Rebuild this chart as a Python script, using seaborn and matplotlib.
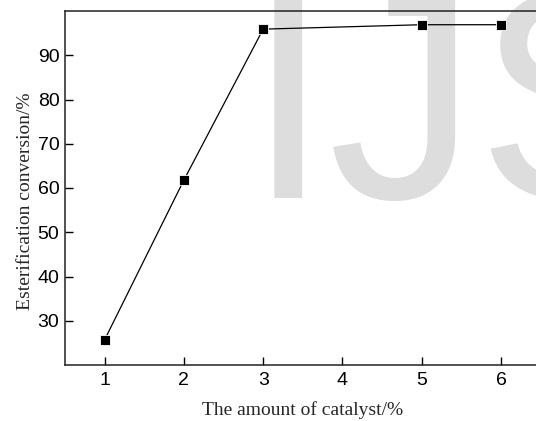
import matplotlib
matplotlib.use("Agg")
import matplotlib.pyplot as plt
import seaborn as sns
import pandas as pd

catalyst = [1, 2, 3, 5, 6]
conversion = [25.7, 61.8, 95.9, 96.9, 96.9]
xticks = [1, 2, 3, 4, 5, 6]
yticks = [30, 40, 50, 60, 70, 80, 90]

sns.set_style("ticks")
plt.rcParams['font.family'] = ['Liberation Sans', 'DejaVu Sans']

df = pd.DataFrame({"x": catalyst, "y": conversion})

fig = plt.figure(figsize=(5.36, 4.21), dpi=100)
ax = fig.add_axes([65/536, 1-365/421, (540.6-65)/536, (365-11)/421])
ax.set_facecolor("none")

fig.text(247/536, 1-198/421, "IJS", fontsize=214, color="#dddddd",
         family="Liberation Sans", va="baseline", ha="left", zorder=-5)

sns.lineplot(data=df, x="x", y="y", ax=ax, color="black", linewidth=0.9,
             marker="s", markersize=7, markerfacecolor="black",
             markeredgecolor="white", markeredgewidth=0.6)

ax.set_xlim(0.5, 6.5)
ax.set_ylim(20, 100)
ax.set_xticks(xticks)
ax.set_yticks(yticks)
ax.tick_params(direction="in", length=6, width=1, labelsize=14, colors="black")
ax.tick_params(axis="x", pad=5)
ax.tick_params(axis="y", pad=4)
for s in ["left", "bottom", "top", "right"]:
    ax.spines[s].set_visible(True)
    ax.spines[s].set_linewidth(1.1)
    ax.spines[s].set_color("#222222")

ax.set_xlabel("The amount of catalyst/%", family="Liberation Serif", fontsize=14, labelpad=9)
ax.set_ylabel("Esterification conversion/%", family="Liberation Serif", fontsize=14)
ax.yaxis.set_label_coords(-0.066, 0.463)

fig.savefig("out.png", dpi=100)
